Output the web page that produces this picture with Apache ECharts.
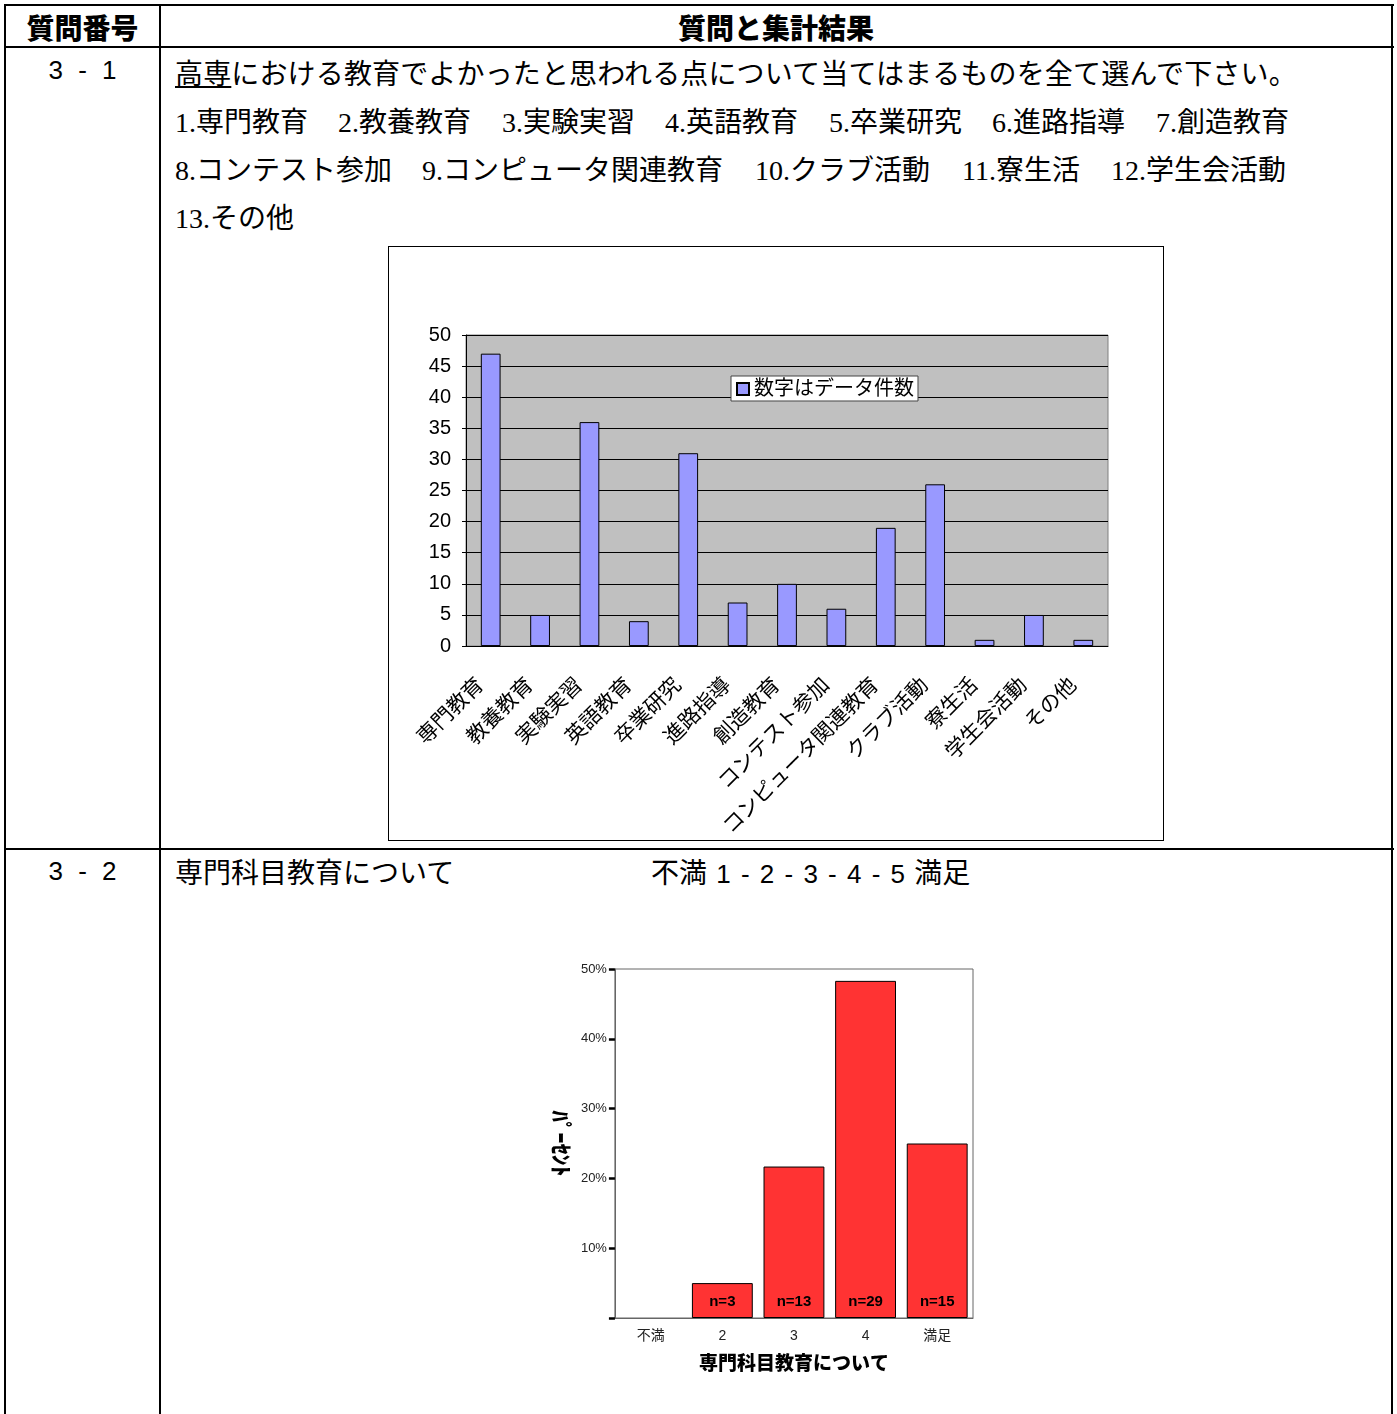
<!DOCTYPE html>
<html>
<head>
<meta charset="utf-8">
<script src="https://cdn.jsdelivr.net/npm/echarts@6/dist/echarts.min.js"></script>
<style>
body { margin: 0; background: #fff; width: 1397px; height: 1414px; position: relative; overflow: hidden;
  font-family: "Noto Sans CJK JP", sans-serif; color: #000; }
.ln { position: absolute; background: #000; }
.t { position: absolute; white-space: pre; font-size: 28px; line-height: 36px; }
.num { font-family: "Liberation Serif", serif; }
.hd { position: absolute; font-size: 28px; font-weight: 900; line-height: 36px; text-align: center; }
.qn { position: absolute; font-family: "Liberation Sans", "Noto Sans CJK JP", sans-serif; font-size: 26px; line-height: 36px; text-align: center; width: 155px; left: 5px; word-spacing: 8px; }
#chart1 { position: absolute; left: 388px; top: 246px; width: 776px; height: 595px; border: 1px solid #000; box-sizing: border-box; }
#chart2 { position: absolute; left: 540px; top: 950px; width: 450px; height: 440px; }
</style>
</head>
<body>
<!-- table lines -->
<div class="ln" style="left:4px;top:4px;width:1390px;height:2px"></div>
<div class="ln" style="left:4px;top:46px;width:1390px;height:2px"></div>
<div class="ln" style="left:4px;top:848px;width:1390px;height:2px"></div>
<div class="ln" style="left:4px;top:4px;width:2px;height:1410px"></div>
<div class="ln" style="left:159px;top:4px;width:2px;height:1410px"></div>
<div class="ln" style="left:1391px;top:4px;width:2px;height:1410px"></div>

<div class="hd" style="left:5px;width:155px;top:9px">質問番号</div>
<div class="hd" style="left:160px;width:1232px;top:9px">質問と集計結果</div>

<div class="qn" style="top:52px">3 - 1</div>
<div class="t" style="left:175px;top:54px;letter-spacing:0.15px"><span style="text-decoration:underline">高専</span>における教育でよかったと思われる点について当てはまるものを全て選んで下さい。</div>
<div id="opts"></div>

<div class="qn" style="top:853px">3 - 2</div>
<div class="t" style="left:175px;top:853px">専門科目教育について</div>
<div class="t" style="left:651px;top:853px;word-spacing:3px">不満 <span style="font-family:'Liberation Sans',sans-serif;font-size:26px">1 - 2 - 3 - 4 - 5</span> 満足</div>

<div id="chart1"></div>
<div id="chart2"></div>

<script>
// 3-1 choices
const choices = ['専門教育', '教養教育', '実験実習', '英語教育', '卒業研究', '進路指導', '創造教育',
  'コンテスト参加', 'コンピュータ関連教育', 'クラブ活動', '寮生活', '学生会活動', 'その他']
const counts1 = [47, 5, 36, 4, 31, 7, 10, 6, 19, 26, 1, 5, 1]

// 3-2 ratings
const ratings = ['不満', '2', '3', '4', '満足']
const percent2 = [0, 5.0, 21.7, 48.3, 25.0]
const nCounts2 = [0, 3, 13, 29, 15]

// option list text under the question
const rows = [[0, 1, 2, 3, 4, 5, 6], [7, 8, 9, 10, 11], [12]]
const rowX = [[175, 338, 502, 665, 829, 992, 1156], [175, 422, 755, 962, 1111], [175]]
let html = ''
rows.forEach((r, ri) => {
    r.forEach((ci, k) => {
        html += '<div class="t" style="left:' + rowX[ri][k] + 'px;top:' + (102 + ri * 48) + 'px">'
            + '<span class="num">' + (ci + 1) + '.</span>' + choices[ci] + '</div>'
    })
})
document.getElementById('opts').innerHTML = html

const jp = '"Liberation Sans", "Noto Sans CJK JP", sans-serif'

let c1 = echarts.init(document.getElementById('chart1'))
c1.setOption({
    animation: false,
    textStyle: { fontFamily: jp },
    grid: { left: 77, top: 88, right: 55, bottom: 193, show: true, backgroundColor: '#c0c0c0', borderColor: '#808080', borderWidth: 1 },
    legend: {
        left: 342, top: 129, icon: 'rect', itemWidth: 12, itemHeight: 12, itemGap: 6,
        backgroundColor: '#fff', borderColor: '#444', borderWidth: 1, borderRadius: 0, padding: [3, 4, 2, 5],
        textStyle: { fontSize: 20, color: '#000', fontFamily: jp }
    },
    xAxis: {
        type: 'category', data: choices,
        axisLine: { lineStyle: { color: '#000', width: 1 } },
        axisTick: { inside: true, length: 6, lineStyle: { color: '#000' } },
        axisLabel: { interval: 0, rotate: 45, fontSize: 21, color: '#000', margin: 26, padding: [0, 14, 0, 0] }
    },
    yAxis: {
        type: 'value', min: 0, max: 50, interval: 5,
        axisLine: { show: true, lineStyle: { color: '#000' } },
        axisTick: { show: true, length: 4, lineStyle: { color: '#000' } },
        axisLabel: { fontSize: 20, color: '#000', margin: 15 },
        splitLine: { lineStyle: { color: '#000', width: 1 } }
    },
    series: [{
        name: '数字はデータ件数', type: 'bar', data: counts1, barWidth: '40%',
        itemStyle: { color: '#9999ff', borderColor: '#000', borderWidth: 1 }
    }]
})

let c2 = echarts.init(document.getElementById('chart2'))
c2.setOption({
    animation: false,
    textStyle: { fontFamily: jp },
    grid: { left: 73, top: 19, right: 17, bottom: 72, show: true, borderColor: '#666', borderWidth: 1 },
    xAxis: {
        type: 'category', data: ratings,
        axisLine: { lineStyle: { color: '#666' } },
        axisTick: { alignWithLabel: true, length: 5, lineStyle: { color: '#000', width: 3 } },
        axisLabel: { fontSize: 14, color: '#222', margin: 11 },
        name: '専門科目教育について', nameLocation: 'middle', nameGap: 37,
        nameTextStyle: { fontSize: 19, fontWeight: 900, color: '#000' }
    },
    yAxis: {
        type: 'value', min: 0, max: 50, interval: 10,
        axisLine: { show: true, lineStyle: { color: '#666' } },
        axisTick: { show: true, length: 6, lineStyle: { color: '#000', width: 2.5 } },
        axisLabel: { fontSize: 13, color: '#222', margin: 8, formatter: v => v > 0 ? v + '%' : '' },
        splitLine: { show: false },
        name: 'ﾊﾟｰｾﾝﾄ', nameLocation: 'middle', nameRotate: -90, nameGap: 42,
        nameTextStyle: { fontSize: 22, fontWeight: 900, color: '#000' }
    },
    series: [{
        type: 'bar', barCategoryGap: '15%',
        data: percent2.map(v => ({ value: v, itemStyle: v ? {} : { borderWidth: 0 } })),
        itemStyle: { color: '#ff3333', borderColor: '#000', borderWidth: 1 },
        label: {
            show: true, position: 'insideBottom', distance: 9, fontSize: 15, fontWeight: 'bold', color: '#000',
            formatter: p => nCounts2[p.dataIndex] ? 'n=' + nCounts2[p.dataIndex] : ''
        }
    }]
})
</script>
</body>
</html>
